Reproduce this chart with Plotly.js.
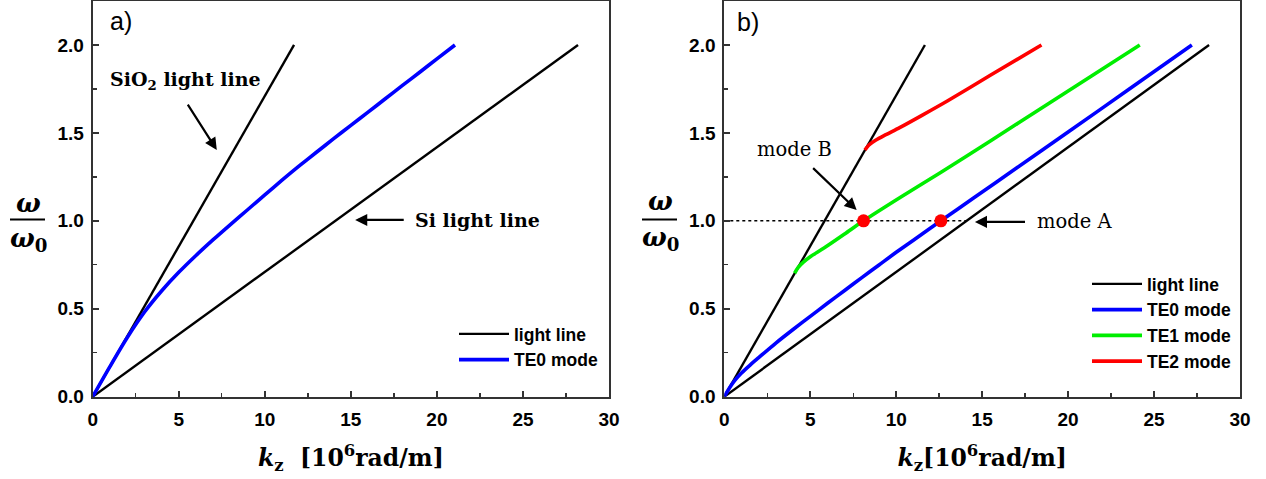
<!DOCTYPE html>
<html>
<head>
<meta charset="utf-8">
<script src="https://cdn.plot.ly/plotly-3.0.1.min.js"></script>
<style>html,body{margin:0;padding:0;background:#fff;}#chart{width:1266px;height:479px;}</style>
</head>
<body>
<div id="chart"></div>
<script>
// ---- Panel a) data ----
const kA_SiO2 = [0, 11.7];
const wA_SiO2 = [0, 2.0];
const kA_Si = [0, 28.2];
const wA_Si = [0, 2.0];
const kA_TE0 = [0, 1, 2, 3, 4, 5, 6, 7, 8, 9, 10, 11, 12, 13, 14, 15, 16, 17, 18, 19, 20, 21.05];
const wA_TE0 = [0, 0.171, 0.335, 0.48, 0.601, 0.707, 0.803, 0.893, 0.979, 1.063, 1.148, 1.231, 1.312, 1.39, 1.467, 1.543, 1.618, 1.694, 1.77, 1.845, 1.921, 2.0];

// ---- Panel b) data ----
const kB_SiO2 = [0, 11.67];
const wB_SiO2 = [0, 2.0];
const kB_Si = [0, 28.2];
const wB_Si = [0, 2.0];
const kB_TE0 = [0, 0.3, 0.6, 1.0, 1.5, 2.0, 3.0, 4.0, 5.0, 6.0, 7.0, 8.0, 9.0, 10.0, 11.0, 12.6, 14.5, 17.0, 20.0, 23.5, 27.2];
const wB_TE0 = [0, 0.05, 0.092, 0.135, 0.18, 0.222, 0.305, 0.382, 0.457, 0.531, 0.604, 0.677, 0.749, 0.821, 0.890, 1.0, 1.13, 1.30, 1.505, 1.745, 2.0];
const kB_TE1 = [4.09, 4.3, 4.6, 5.0, 5.8, 7.0, 8.1, 10.25, 12.54, 15.5, 18.35, 24.17];
const wB_TE1 = [0.702, 0.735, 0.765, 0.796, 0.845, 0.925, 1.0, 1.134, 1.272, 1.455, 1.635, 2.0];
const kB_TE2 = [8.18, 8.4, 8.8, 9.4, 10.2, 11.5, 13.0, 15.5, 18.45];
const wB_TE2 = [1.403, 1.43, 1.458, 1.49, 1.53, 1.6, 1.683, 1.829, 2.0];
const kB_ref = [0, 14.1];
const wB_ref = [1.0, 1.0];
const kB_modes = [8.1, 12.6];
const wB_modes = [1.0, 1.0];

const legendNames = ['light line', 'TE0 mode', 'TE1 mode', 'TE2 mode'];
const xTicks = [0, 5, 10, 15, 20, 25, 30];
const yTicks = [0.0, 0.5, 1.0, 1.5, 2.0];

const BLACK = '#000000', BLUE = '#0000ff', GREEN = '#00ee00', RED = '#ff0000';

function line(x, y, color, width, xa, ya, name, show, leg, dash, smooth) {
  return {x: x, y: y, type: 'scatter', mode: 'lines', xaxis: xa, yaxis: ya,
    name: name, showlegend: show, legend: leg,
    line: {color: color, width: width, dash: dash || 'solid', shape: smooth ? 'spline' : 'linear', smoothing: 0.8},
    hoverinfo: 'skip'};
}

const traces = [
  line(kA_SiO2, wA_SiO2, BLACK, 2.4, 'x', 'y', legendNames[0], true, 'legend'),
  line(kA_Si, wA_Si, BLACK, 2.4, 'x', 'y', legendNames[0], false, 'legend'),
  line(kA_TE0, wA_TE0, BLUE, 3.6, 'x', 'y', legendNames[1], true, 'legend', null, true),

  line(kB_ref, wB_ref, BLACK, 1.5, 'x2', 'y2', '', false, 'legend2', 'dot'),
  line(kB_SiO2, wB_SiO2, BLACK, 2.4, 'x2', 'y2', legendNames[0], true, 'legend2'),
  line(kB_Si, wB_Si, BLACK, 2.4, 'x2', 'y2', legendNames[0], false, 'legend2'),
  line(kB_TE0, wB_TE0, BLUE, 3.6, 'x2', 'y2', legendNames[1], true, 'legend2', null, true),
  line(kB_TE1, wB_TE1, GREEN, 3.6, 'x2', 'y2', legendNames[2], true, 'legend2', null, true),
  line(kB_TE2, wB_TE2, RED, 3.6, 'x2', 'y2', legendNames[3], true, 'legend2', null, true),
  {x: kB_modes, y: wB_modes, type: 'scatter', mode: 'markers', xaxis: 'x2', yaxis: 'y2',
   showlegend: false, marker: {color: RED, size: 13}, hoverinfo: 'skip'}
];

const tickFont = {family: 'Liberation Sans, Arial, sans-serif', size: 19, color: '#000', weight: 'bold'};
const serif = 'DejaVu Serif, Liberation Serif, serif';

function xax(domain) {
  return {domain: domain, range: [0, 30], tickvals: xTicks, ticktext: xTicks.map(String),
    ticks: 'inside', ticklen: 6, tickwidth: 1.6, tickcolor: '#333',
    minor: {ticks: 'inside', ticklen: 4, tickwidth: 1.4, tickcolor: '#333', dtick: 2.5, tick0: 0},
    showline: true, linecolor: '#333', linewidth: 2, mirror: true,
    showgrid: false, zeroline: false, tickfont: tickFont, ticklabelstandoff: 4,
    fixedrange: true};
}
function yax(domain, anchor) {
  return {domain: domain, range: [0, 2.25], anchor: anchor, tickvals: yTicks, ticktext: yTicks.map(v => v.toFixed(1)),
    ticks: 'inside', ticklen: 6, tickwidth: 1.6, tickcolor: '#333',
    minor: {ticks: 'inside', ticklen: 4, tickwidth: 1.4, tickcolor: '#333', dtick: 0.25, tick0: 0},
    showline: true, linecolor: '#333', linewidth: 2, mirror: true,
    showgrid: false, zeroline: false, tickfont: tickFont, ticklabelstandoff: 3,
    fixedrange: true};
}

const W = 1266, H = 479;
const px = v => v / W, py = v => (H - v) / H;

const xTitleFont = {family: serif, size: 23.5, color: '#000'};
const xa = xax([px(92.7), px(609)]);
xa.anchor = 'y';
xa.title = {text: '<b><i>k</i><sub>z</sub>  [10<sup>6</sup>rad/m]</b>', font: xTitleFont, standoff: 21};
const xa2 = xax([px(724.3), px(1240)]);
xa2.anchor = 'y2';
xa2.title = {text: '<b><i>k</i><sub>z</sub>[10<sup>6</sup>rad/m]</b>', font: xTitleFont, standoff: 21};

const ann = [];
function txt(x, y, text, xref, yref, font, xanchor) {
  ann.push({x: x, y: y, xref: xref, yref: yref, text: text, showarrow: false, font: font,
    xanchor: xanchor || 'center', yanchor: 'middle'});
}
function arrow(x, y, ax, ay, xref, yref) {
  ann.push({x: x, y: y, ax: ax, ay: ay, xref: xref, yref: yref, axref: xref, ayref: yref,
    text: '', showarrow: true, arrowhead: 2, arrowsize: 1.1, arrowwidth: 2.2, arrowcolor: '#000'});
}
const labFont = {family: serif, size: 19, color: '#000', weight: 'bold'};
const modeFont = {family: serif, size: 19.5, color: '#000'};
const panelFont = {family: 'Liberation Sans, Arial, sans-serif', size: 25, color: '#000'};
const omegaFont = {family: serif, size: 26, color: '#000'};

// panel labels
txt(px(121), py(21), 'a)', 'paper', 'paper', panelFont);
txt(px(748), py(22), 'b)', 'paper', 'paper', panelFont);
// panel a annotations
txt(5.42, 1.80, '<b>SiO<sub>2</sub> light line</b>', 'x', 'y', labFont);
arrow(7.21, 1.403, 5.47, 1.669, 'x', 'y');
txt(18.6, 1.005, '<b>Si light line</b>', 'x', 'y', labFont, 'left');
arrow(15.25, 1.005, 18.16, 1.005, 'x', 'y');
// panel b annotations
txt(4.11, 1.405, 'mode B', 'x2', 'y2', modeFont);
arrow(7.70, 1.062, 5.08, 1.308, 'x2', 'y2');
txt(18.1, 0.994, 'mode A', 'x2', 'y2', modeFont, 'left');
arrow(14.58, 0.994, 17.58, 0.994, 'x2', 'y2');
// y-axis fraction titles
txt(px(28), py(203), '<b><i>ω</i></b>', 'paper', 'paper', omegaFont);
txt(px(28), py(239), '<b><i>ω</i><sub>0</sub></b>', 'paper', 'paper', omegaFont);
txt(px(660), py(201), '<b><i>ω</i></b>', 'paper', 'paper', omegaFont);
txt(px(660), py(238), '<b><i>ω</i><sub>0</sub></b>', 'paper', 'paper', omegaFont);

const shapes = [
  {type: 'line', xref: 'paper', yref: 'paper', x0: px(10), x1: px(45), y0: py(219.5), y1: py(219.5), line: {color: '#000', width: 2}},
  {type: 'line', xref: 'paper', yref: 'paper', x0: px(642), x1: px(677), y0: py(219.5), y1: py(219.5), line: {color: '#000', width: 2}}
];

const legFont = {family: 'Liberation Sans, Arial, sans-serif', size: 17.5, color: '#000', weight: 'bold'};
const layout = {
  width: W, height: H, margin: {l: 0, r: 0, t: 0, b: 0},
  paper_bgcolor: '#fff', plot_bgcolor: '#fff',
  xaxis: xa, yaxis: yax([py(396.7), py(1)], 'x'),
  xaxis2: xa2, yaxis2: yax([py(396.7), py(1)], 'x2'),
  legend: {x: px(603), y: py(378), xanchor: 'right', yanchor: 'bottom', bgcolor: 'rgba(0,0,0,0)',
    font: legFont, itemwidth: 50, tracegroupgap: 0},
  legend2: {x: px(1236), y: py(379), xanchor: 'right', yanchor: 'bottom', bgcolor: 'rgba(0,0,0,0)',
    font: legFont, itemwidth: 50, tracegroupgap: 0},
  annotations: ann, shapes: shapes, showlegend: true
};

Plotly.newPlot('chart', traces, layout, {displayModeBar: false, staticPlot: true});
</script>
</body>
</html>
